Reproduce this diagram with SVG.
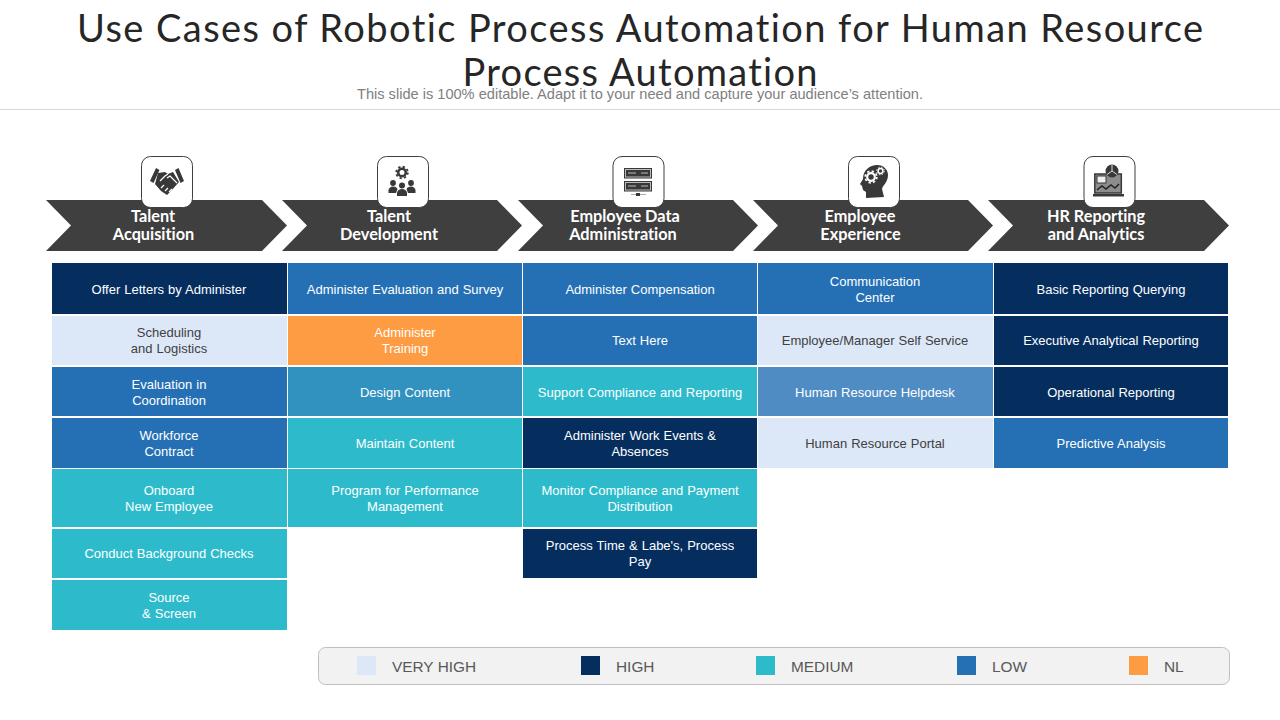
<svg xmlns="http://www.w3.org/2000/svg" width="1280" height="720" viewBox="0 0 1280 720">
<defs>
<symbol id="unused"/>
</defs>
<style>
.title{font:38px "Lato","Liberation Sans",sans-serif;fill:#262626;text-anchor:middle;font-variant-ligatures:none}
.sub{font:14.6px "Liberation Sans",Arial,sans-serif;fill:#808080;text-anchor:middle}
.head{font:bold 16.300px "Lato","Liberation Sans",sans-serif;fill:#fff;text-anchor:middle;font-variant-ligatures:none}
.c{font:13px "Liberation Sans",Arial,sans-serif;text-anchor:middle;fill:#fff;word-spacing:.4px}
.c.k{fill:#404040}
.d{fill:#3f3f3f}
.box{fill:#fff;stroke:#3f3f3f;stroke-width:1}
.lg{font:15.400px "Liberation Sans",Arial,sans-serif;fill:#595959}
.vh{fill:#dce8f8}.h{fill:#052e5f}.m{fill:#2dbbcc}.l{fill:#2570b4}.n{fill:#fd9c42}.t{fill:#3191bf}.s{fill:#4f8cc4}
.i{fill:#383838}
.w{fill:none;stroke:#fff;stroke-width:1.200}
.gear{fill:none;stroke:#383838}
.thin{fill:none;stroke:#bbb;stroke-width:1}
</style>
<g id="title">
<text class="title" x="640" y="42" textLength="1126" lengthAdjust="spacing">Use Cases of Robotic Process Automation for Human Resource</text>
<text class="title" x="640" y="86" textLength="355" lengthAdjust="spacing">Process Automation</text>
<text class="sub" x="640" y="99">This slide is 100% editable. Adapt it to your need and capture your audience’s attention.</text>
<line x1="0" y1="109.500" x2="1280" y2="109.500" stroke="#d9d9d9"/>
</g>
<g id="connectors"></g>
<g id="node-talent-acquisition">
<polygon class="d" points="46,200 262,200 287,225.500 262,251 46,251 71,225.500"/>
<rect class="box" x="141.500" y="156.500" width="51" height="51" rx="9"/>
<path class="i" d="M150,181 L156,168 L159.500,170 L153.500,183 Z M175,170 L178.500,168 L184,181 L180.500,183 Z"/>
<path class="i" d="M158,173 L165,172 L168,174 L173,172 L179,182 L171,191 L167,195 L161,191 L155,184 Z"/>
<path class="w" d="M160,181 L165,176 L168,174 M167,178 L170,176 L177,183 M161,188 L164,185 M165,191 L168,188 M169,192 L172,189"/>
<text class="head" x="153" y="222">Talent</text>
<text class="head" x="153.500" y="240">Acquisition</text>
</g>
<g id="node-talent-development">
<polygon class="d" points="282,200 497,200 522,225.500 497,251 282,251 307,225.500"/>
<rect class="box" x="377.500" y="156.500" width="51" height="51" rx="9"/>
<circle class="gear" cx="402" cy="172.500" r="3.800" stroke-width="2.600"/>
<circle class="gear" cx="402" cy="172.500" r="5.800" stroke-width="1.800" stroke-dasharray="2.300 2.250"/>
<circle class="i" cx="393" cy="183" r="2.900"/><circle class="i" cx="411" cy="183" r="2.900"/><circle class="i" cx="402" cy="185.500" r="3"/>
<path class="i" d="M388.500,193 V190 Q389.500,186.500 393,186.500 Q396.500,186.500 397.500,189 L396,193 Z M406.500,189 Q407.500,186.500 411,186.500 Q414.500,186.500 415.500,190 V193 H408 Z"/>
<path class="i" d="M397,196 V192.500 Q398,189 402,189 Q406,189 407,192.500 V196 Z"/>
<text class="head" x="389" y="222">Talent</text>
<text class="head" x="389" y="240">Development</text>
</g>
<g id="node-employee-data">
<polygon class="d" points="518,200 733,200 758,225.500 733,251 518,251 543,225.500"/>
<rect class="box" x="613" y="156.500" width="51" height="51" rx="9"/>
<rect class="i" x="624" y="168" width="28" height="10.500"/>
<rect class="i" x="624" y="181" width="28" height="10.500"/>
<rect class="thin" x="625.500" y="169.500" width="25" height="7.500"/>
<rect class="thin" x="625.500" y="182.500" width="25" height="7.500"/>
<path class="thin" d="M628,173 H636 M641,173 H648 M628,186 H636 M641,186 H648"/>
<path d="M631,194.500 H646" stroke="#aaa" stroke-width="1"/>
<rect class="i" x="636" y="193" width="4" height="3"/>
<text class="head" x="625" y="222">Employee Data</text>
<text class="head" x="623" y="240">Administration</text>
</g>
<g id="node-employee-experience">
<polygon class="d" points="753,200 968,200 993,225.500 968,251 753,251 778,225.500"/>
<rect class="box" x="848.500" y="156.500" width="51" height="51" rx="9"/>
<path class="i" d="M866,198 V192 L863,190 L862,186 L860,184 L863,179 C863,170 870,165 877,165 C884,165 888,170 888,175 C888,182 883,185 882,189 L884,197 Z"/>
<circle cx="871" cy="177" r="3.800" fill="none" stroke="#fff" stroke-width="2.200"/>
<circle cx="871" cy="177" r="5.800" fill="none" stroke="#fff" stroke-width="1.800" stroke-dasharray="2.300 2.250"/>
<circle cx="880.500" cy="171" r="2.400" fill="none" stroke="#fff" stroke-width="1.500"/>
<circle cx="880.500" cy="171" r="3.800" fill="none" stroke="#fff" stroke-width="1" stroke-dasharray="1.500 1.500"/>
<text class="head" x="860" y="222">Employee</text>
<text class="head" x="860.500" y="240">Experience</text>
</g>
<g id="node-hr-reporting">
<polygon class="d" points="988,200 1204,200 1229,225.500 1204,251 988,251 1013,225.500"/>
<rect class="box" x="1084" y="156.500" width="51" height="51" rx="9"/>
<rect x="1094.800" y="174" width="26.500" height="19" fill="#8d8d8d" stroke="#383838" stroke-width="1.500"/>
<circle class="i" cx="1112" cy="171" r="6.500"/>
<path d="M1112,171 V165 M1112,171 L1107,174.500 M1112,171 L1117,174.500" stroke="#ddd" stroke-width="1"/>
<rect x="1097" y="176" width="9" height="7" fill="#eee" stroke="#383838"/>
<path d="M1097,190 L1102,186 L1106,189 L1111,185 L1115,188 L1119,184" fill="none" stroke="#222" stroke-width="1.500"/>
<rect class="i" x="1093" y="194" width="31" height="2.500"/>
<text class="head" x="1096" y="222">HR Reporting</text>
<text class="head" x="1096" y="240">and Analytics</text>
</g>
<g id="col1">
<rect class="h" x="52" y="263" width="235" height="51"/><text class="c" x="169" y="293.500">Offer Letters by Administer</text>
<rect class="vh" x="52" y="316" width="235" height="49"/><text class="c k" x="169" y="337">Scheduling</text><text class="c k" x="169" y="353">and Logistics</text>
<rect class="l" x="52" y="367" width="235" height="49"/><text class="c" x="169" y="389">Evaluation in</text><text class="c" x="169" y="405">Coordination</text>
<rect class="l" x="52" y="418" width="235" height="50"/><text class="c" x="169" y="440">Workforce</text><text class="c" x="169" y="456">Contract</text>
<rect class="m" x="52" y="469" width="235" height="58"/><text class="c" x="169" y="495">Onboard</text><text class="c" x="169" y="511">New Employee</text>
<rect class="m" x="52" y="529" width="235" height="49"/><text class="c" x="169" y="558">Conduct Background Checks</text>
<rect class="m" x="52" y="580" width="235" height="50"/><text class="c" x="169" y="602">Source</text><text class="c" x="169" y="618">&amp; Screen</text>
</g>
<g id="col2">
<rect class="l" x="288" y="263" width="234" height="51"/><text class="c" x="405" y="293.500">Administer Evaluation and Survey</text>
<rect class="n" x="288" y="316" width="234" height="49"/><text class="c" x="405" y="337">Administer</text><text class="c" x="405" y="353">Training</text>
<rect class="t" x="288" y="367" width="234" height="49"/><text class="c" x="405" y="397">Design Content</text>
<rect class="m" x="288" y="418" width="234" height="50"/><text class="c" x="405" y="448">Maintain Content</text>
<rect class="m" x="288" y="469" width="234" height="58"/><text class="c" x="405" y="495">Program for Performance</text><text class="c" x="405" y="511">Management</text>
</g>
<g id="col3">
<rect class="l" x="523" y="263" width="234" height="51"/><text class="c" x="640" y="293.500">Administer Compensation</text>
<rect class="l" x="523" y="316" width="234" height="49"/><text class="c" x="640" y="345">Text Here</text>
<rect class="m" x="523" y="367" width="234" height="49"/><text class="c" x="640" y="397">Support Compliance and Reporting</text>
<rect class="h" x="523" y="418" width="234" height="50"/><text class="c" x="640" y="440">Administer Work Events &amp;</text><text class="c" x="640" y="456">Absences</text>
<rect class="m" x="523" y="469" width="234" height="58"/><text class="c" x="640" y="495">Monitor Compliance and Payment</text><text class="c" x="640" y="511">Distribution</text>
<rect class="h" x="523" y="529" width="234" height="49"/><text class="c" x="640" y="550">Process Time &amp; Labe's, Process</text><text class="c" x="640" y="566">Pay</text>
</g>
<g id="col4">
<rect class="l" x="758" y="263" width="235" height="51"/><text class="c" x="875" y="286">Communication</text><text class="c" x="875" y="302">Center</text>
<rect class="vh" x="758" y="316" width="235" height="49"/><text class="c k" x="875" y="345">Employee/Manager Self Service</text>
<rect class="s" x="758" y="367" width="235" height="49"/><text class="c" x="875" y="397">Human Resource Helpdesk</text>
<rect class="vh" x="758" y="418" width="235" height="50"/><text class="c k" x="875" y="448">Human Resource Portal</text>
</g>
<g id="col5">
<rect class="h" x="994" y="263" width="234" height="51"/><text class="c" x="1111" y="293.500">Basic Reporting Querying</text>
<rect class="h" x="994" y="316" width="234" height="49"/><text class="c" x="1111" y="345">Executive Analytical Reporting</text>
<rect class="h" x="994" y="367" width="234" height="49"/><text class="c" x="1111" y="397">Operational Reporting</text>
<rect class="l" x="994" y="418" width="234" height="50"/><text class="c" x="1111" y="448">Predictive Analysis</text>
</g>
<g id="legend">
<rect x="318.500" y="647.500" width="911" height="37" rx="7" fill="#f2f2f2" stroke="#bfbfbf"/>
<rect class="vh" x="357" y="656" width="19" height="19"/><text class="lg" x="392" y="672">VERY HIGH</text>
<rect class="h" x="581" y="656" width="19" height="19"/><text class="lg" x="616" y="672">HIGH</text>
<rect class="m" x="756" y="656" width="19" height="19"/><text class="lg" x="791" y="672">MEDIUM</text>
<rect class="l" x="957" y="656" width="19" height="19"/><text class="lg" x="992" y="672">LOW</text>
<rect class="n" x="1129" y="656" width="19" height="19"/><text class="lg" x="1164" y="672">NL</text>
</g>
</svg>
